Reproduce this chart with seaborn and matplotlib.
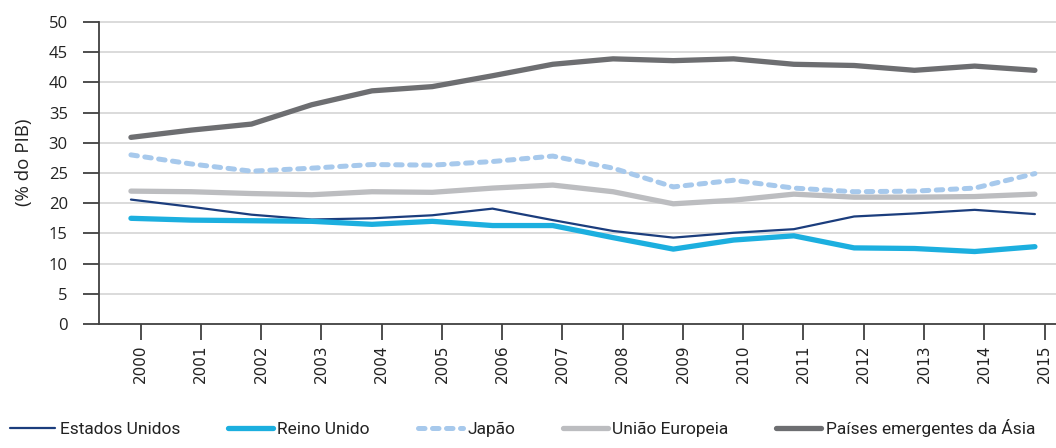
import matplotlib
matplotlib.use("Agg")
import matplotlib.pyplot as plt
import seaborn as sns
import pandas as pd

years = list(range(2000, 2016))
estados_unidos = [20.6, 19.4, 18.1, 17.3, 17.5, 18.0, 19.1, 17.2, 15.4, 14.3, 15.1, 15.7, 17.8, 18.3, 18.9, 18.2]
reino_unido = [17.5, 17.2, 17.1, 17.0, 16.5, 17.0, 16.3, 16.3, 14.3, 12.4, 13.9, 14.6, 12.6, 12.5, 12.0, 12.8]
japao = [28.0, 26.5, 25.3, 25.8, 26.4, 26.3, 26.9, 27.8, 25.8, 22.7, 23.8, 22.5, 21.9, 22.0, 22.5, 24.9]
uniao_europeia = [22.0, 21.9, 21.6, 21.4, 21.9, 21.8, 22.5, 23.0, 21.9, 19.9, 20.5, 21.5, 21.0, 21.0, 21.1, 21.5]
asia_emergente = [30.9, 32.1, 33.1, 36.3, 38.6, 39.3, 41.1, 43.0, 43.9, 43.6, 43.9, 43.0, 42.8, 42.0, 42.7, 42.0]

series_names = ["Estados Unidos", "Reino Unido", "Japão", "União Europeia", "Países emergentes da Ásia"]
series_values = [estados_unidos, reino_unido, japao, uniao_europeia, asia_emergente]
y_ticks = list(range(0, 51, 5))

rows = []
for name, vals in zip(series_names, series_values):
    for y, v in zip(years, vals):
        rows.append({"Ano": y, "Valor": v, "Série": name})
df = pd.DataFrame(rows)

sns.set_theme(style="white")
plt.rcParams["font.family"] = ["Open Sans", "DejaVu Sans"]

styles = {
    "Estados Unidos": dict(color="#1b3d7d", lw=1.6),
    "Reino Unido": dict(color="#1cafdf", lw=3.8),
    "Japão": dict(color="#a7c9ec", lw=3.6, dashes=(1.3, 1.5)),
    "União Europeia": dict(color="#bcbdc0", lw=3.8),
    "Países emergentes da Ásia": dict(color="#6d6e71", lw=3.8),
}

fig = plt.figure(figsize=(10.56, 4.48), dpi=100)
ax = fig.add_axes([99/1056, 1 - 324/448, 1 - 99/1056, 324/448])

for name in series_names:
    st = styles[name]
    sub = df[df["Série"] == name]
    kw = dict(color=st["color"], linewidth=st["lw"], label=name, ax=ax,
              solid_capstyle="round", solid_joinstyle="round")
    if "dashes" in st:
        sns.lineplot(data=sub, x="Ano", y="Valor", dashes=False, **kw)
        ax.lines[-1].set_dashes(st["dashes"])
        ax.lines[-1].set_dash_capstyle("round")
    else:
        sns.lineplot(data=sub, x="Ano", y="Valor", **kw)

ax.set_ylim(0, 50 + 22/6.04)
ax.set_xlim(1999.47, 2015.35)
ax.set_yticks(y_ticks)
ax.set_xticks([y + 0.16 for y in years])
ax.set_xticklabels([str(y) for y in years], rotation=90, fontsize=11, family="DejaVu Sans", color="#222222")
ax.tick_params(axis="y", labelsize=12, length=11.5, width=1.3, color="#404040", pad=11, labelcolor="#222222", left=True)
ax.tick_params(axis="x", length=11.5, width=1.3, color="#404040", pad=3, bottom=True)
for t in y_ticks[1:]:
    ax.axhline(t, color="#d4d4d4", lw=1.2, zorder=0)
for s in ["top", "right"]:
    ax.spines[s].set_visible(False)
ax.spines["left"].set_bounds(0, 50)
ax.spines["left"].set_color("#404040")
ax.spines["left"].set_linewidth(1.3)
ax.spines["bottom"].set_color("#404040")
ax.spines["bottom"].set_linewidth(1.3)
ax.set_xlabel("")
ax.set_ylabel("(% do PIB)", fontsize=13.5, color="#222222", labelpad=11)
if ax.legend_:
    ax.legend_.remove()

handles, labels = ax.get_legend_handles_labels()
leg = fig.legend(handles, labels, loc="lower left", bbox_to_anchor=(-0.005, -0.01), ncol=5,
                 frameon=False, handlelength=2.6, handletextpad=0.25, columnspacing=2.75,
                 prop={"family": ["Roboto", "DejaVu Sans"], "size": 12.5})
for t in leg.get_texts():
    t.set_color("#222222")

fig.savefig("out.png", dpi=100)
